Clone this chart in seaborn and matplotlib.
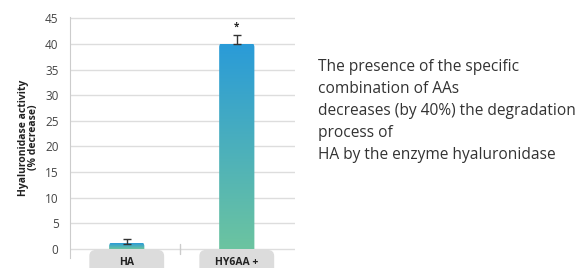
import numpy as np
import pandas as pd
import matplotlib
matplotlib.use("Agg")
import matplotlib.pyplot as plt
import seaborn as sns
from matplotlib.patches import FancyBboxPatch
from matplotlib.colors import LinearSegmentedColormap

categories = ["HA", "HY6AA +"]
values = [1.0, 40.0]
errors = [1.0, 1.8]
yticks = [0, 5, 10, 15, 20, 25, 30, 35, 40, 45]
ylabel = "Hyaluronidase activity\n(% decrease)"
note = ("The presence of the specific\ncombination of AAs\n"
        "decreases (by 40%) the degradation\nprocess of\n"
        "HA by the enzyme hyaluronidase")

sns.set_style("white")
plt.rcParams['font.family'] = ['Open Sans', 'DejaVu Sans']

df = pd.DataFrame({"cat": categories, "val": values})
fig = plt.figure(figsize=(5.86, 2.68), dpi=100)
ax = fig.add_axes([0.119, 0.037, 0.384, 0.90])
sns.barplot(data=df, x="cat", y="val", ax=ax, width=0.32, color="#2a9bd8")

ax.set_ylim(-1.8, 45.3)
ax.set_xlim(-0.518, 1.527)
ax.set_yticks(yticks)
ax.tick_params(axis='y', labelsize=8.5, labelcolor="#444444", length=5, color="#cccccc", width=1, pad=3)
ax.yaxis.grid(True, color="#dddddd", linewidth=1)
ax.set_axisbelow(True)
for s in ["top", "right", "bottom"]:
    ax.spines[s].set_visible(False)
ax.spines["left"].set_color("#cccccc")
ax.set_xticks([])
ax.set_xlabel("")
ax.set_ylabel(ylabel, fontsize=7.5, fontweight="bold", color="#222222", labelpad=4, linespacing=0.95)
# small tick between categories
ax.plot([0.48, 0.48], [-1.0, 0.9], color="#cccccc", lw=1, zorder=1)

cmap = LinearSegmentedColormap.from_list("g", ["#6cc4a0", "#2a9bd8"])
grad = np.linspace(0, 1, 256).reshape(-1, 1)
for i, p in enumerate(list(ax.patches)):
    x0, w, h = p.get_x(), p.get_width(), p.get_height()
    p.set_visible(False)
    fb = FancyBboxPatch((x0 + 0.04, 0), w - 0.08, h - 0.6 if h > 2 else h*0.5,
                        boxstyle="round,pad=0.04,rounding_size=0.04",
                        mutation_aspect=(47.1/ (0.9*268)) / (2.045/(0.384*586)),
                        facecolor="none", edgecolor="none")
    ax.add_patch(fb)
    im = ax.imshow(grad, extent=[x0, x0 + w, 0, h], origin="lower", aspect="auto",
                   cmap=cmap, zorder=2, vmin=0, vmax=1)
    im.set_clip_path(fb)
    ax.errorbar(i, h, yerr=[[0], [errors[i]]], color="#333333", lw=1, capsize=3, capthick=1, zorder=3)
ax.set_aspect("auto")
ax.set_xlim(-0.518, 1.527)
ax.set_ylim(-1.8, 45.3)
ax.text(1, 43.2, "*", ha="center", va="center", fontsize=7, color="#222222", fontweight="bold")

# category label boxes
for i, c in enumerate(categories):
    box = FancyBboxPatch((i - 0.30, -7), 0.60, 6.0,
                         boxstyle="round,pad=0.04,rounding_size=0.06",
                         mutation_aspect=20, facecolor="#dcdcdc", edgecolor="none",
                         clip_on=False, zorder=1, transform=ax.transData)
    ax.add_patch(box)
    ax.text(i, -2.6, c, ha="center", va="center", fontsize=7.5, fontweight="bold",
            color="#222222", clip_on=False)

fig.text(318/586, 1 - 59/268, note, ha="left", va="top", fontsize=11.2,
         color="#333333", linespacing=1.5)

fig.savefig("out.png", dpi=100)
